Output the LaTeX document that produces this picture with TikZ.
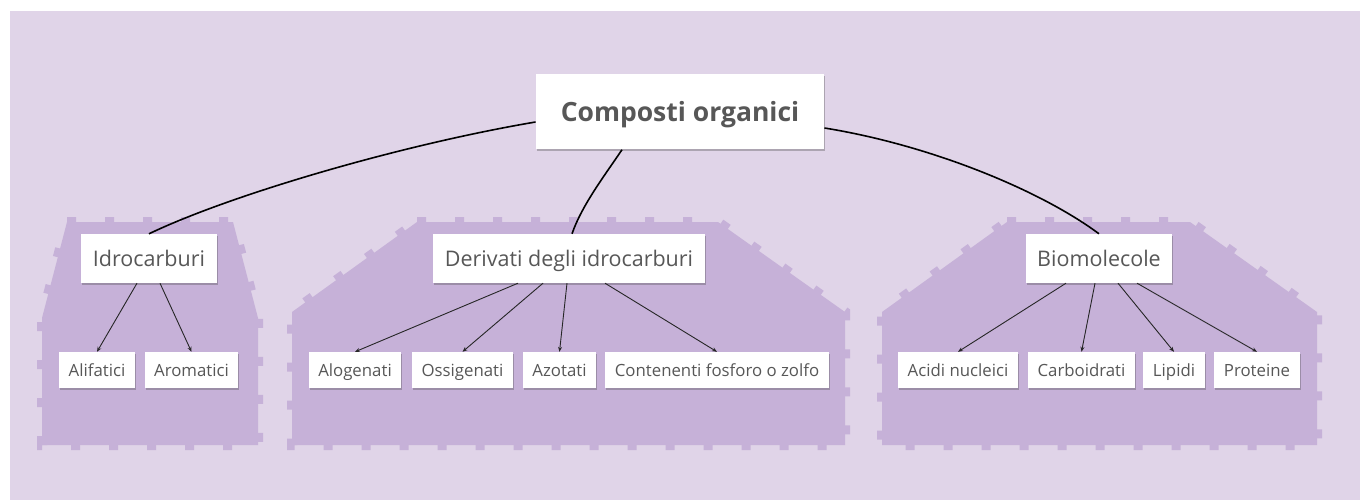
\documentclass[tikz,border=0pt]{standalone}
\usepackage{fontspec}
\setmainfont{Open Sans}
\usetikzlibrary{arrows.meta,shadows}
\definecolor{canvas}{HTML}{E0D4E8}
\definecolor{zone}{HTML}{C6B1D8}
\definecolor{ink}{HTML}{575757}
\tikzset{
  card/.style={fill=white, draw=none, text=ink, inner ysep=0pt, text depth=0pt,
    drop shadow={shadow xshift=1pt, shadow yshift=-1.5pt, opacity=0.35, fill=black!70}},
  rootcard/.style={card, font=\fontsize{26.5}{30}\selectfont\bfseries, text height=19pt,
    minimum height=75pt, inner xsep=25pt},
  midcard/.style={card, font=\fontsize{21.5}{25}\selectfont, text height=15.4pt,
    minimum height=49pt, inner xsep=11.5pt},
  leafcard/.style={card, font=\fontsize{16.8}{20}\selectfont, text height=12pt,
    minimum height=36pt, inner xsep=9.5pt},
  zonefill/.style={fill=zone, draw=zone, line width=10pt, dash pattern=on 9pt off 29pt, line join=miter},
  trunk/.style={draw=black, line width=1.6pt},
  twig/.style={draw=black!85, line width=0.9pt, -{Stealth[length=5pt,width=4pt]}}
}
\begin{document}
\begin{tikzpicture}[x=1pt,y=-1pt]
\useasboundingbox (0,0) rectangle (1360,500);
\fill[white] (0,0) rectangle (1360,500);
\fill[canvas] (10,11) rectangle (1360,500);

% group areas
\path[zonefill] (67,222) -- (233,222) -- (258,318) -- (258,445) -- (42,445) -- (42,318) -- cycle;
\path[zonefill] (417,222) -- (718,222) -- (845,312) -- (845,445) -- (292,445) -- (292,312) -- cycle;
\path[zonefill] (1007,222) -- (1190,222) -- (1317,312) -- (1317,445) -- (882,445) -- (882,312) -- cycle;

% cards
\node[rootcard] (root) at (680,112) {Composti organici};
\node[midcard] (idro) at (149,258.5) {Idrocarburi};
\node[midcard] (deriv) at (569,258.5) {Derivati degli idrocarburi};
\node[midcard] (bio) at (1099,258.5) {Biomolecole};

\node[leafcard] (alif) at (97,370) {Alifatici};
\node[leafcard] (arom) at (191.5,370) {Aromatici};
\node[leafcard] (alog) at (355,370) {Alogenati};
\node[leafcard] (ossi) at (462.5,370) {Ossigenati};
\node[leafcard] (azot) at (559.5,370) {Azotati};
\node[leafcard] (cont) at (717,370) {Contenenti fosforo o zolfo};
\node[leafcard] (acid) at (958,370) {Acidi nucleici};
\node[leafcard] (carb) at (1081.5,370) {Carboidrati};
\node[leafcard] (lipi) at (1174,370) {Lipidi};
\node[leafcard] (prot) at (1257,370) {Proteine};

% curved links from the root
\draw[trunk] ([yshift=-10pt]root.west) .. controls (400,145) and (230,195) .. (idro.north);
\draw[trunk] ([xshift=-58pt]root.south) .. controls (605,175) and (582,205) .. ([xshift=3pt]deriv.north);
\draw[trunk] ([yshift=-16pt]root.east) .. controls (930,145) and (1040,190) .. (bio.north);

% arrows down to the leaves
\draw[twig] ([xshift=-12pt]idro.south) -- (alif.north);
\draw[twig] ([xshift=11pt]idro.south) -- (arom.north);
\draw[twig] ([xshift=-51pt]deriv.south) -- (alog.north);
\draw[twig] ([xshift=-26pt]deriv.south) -- (ossi.north);
\draw[twig] ([xshift=-2pt]deriv.south) -- (azot.north);
\draw[twig] ([xshift=36pt]deriv.south) -- (cont.north);
\draw[twig] ([xshift=-33pt]bio.south) -- (acid.north);
\draw[twig] ([xshift=-4pt]bio.south) -- (carb.north);
\draw[twig] ([xshift=19pt]bio.south) -- (lipi.north);
\draw[twig] ([xshift=38pt]bio.south) -- (prot.north);
\end{tikzpicture}
\end{document}
